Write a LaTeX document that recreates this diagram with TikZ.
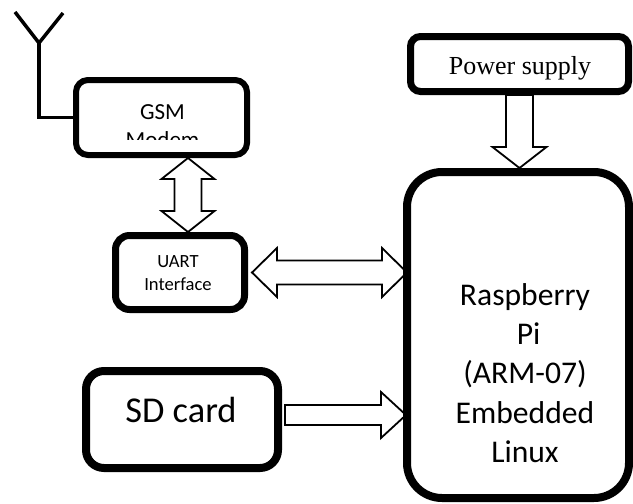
\documentclass[tikz,border=0pt]{standalone}
\usepackage{fontspec}
\setmainfont{Carlito}
\newfontfamily\psfont{Liberation Serif}
\usetikzlibrary{positioning,calc}

\tikzset{
  blk/.style={draw, inner sep=0pt, fill=white},
  % hollow block arrows: shaft half width, head half width, head length
  onearrow/.style n args={3}{line width=1.8pt, line join=miter, to path={
    -- ($(\tikztostart)!#1!90:(\tikztotarget)$)
    -- ($($(\tikztotarget)!#3!(\tikztostart)$)!#1!90:(\tikztotarget)$)
    -- ($($(\tikztotarget)!#3!(\tikztostart)$)!#2!90:(\tikztotarget)$)
    -- (\tikztotarget)
    -- ($($(\tikztotarget)!#3!(\tikztostart)$)!#2!-90:(\tikztotarget)$)
    -- ($($(\tikztotarget)!#3!(\tikztostart)$)!#1!-90:(\tikztotarget)$)
    -- ($(\tikztostart)!#1!-90:(\tikztotarget)$)
    -- cycle}},
  twoarrow/.style n args={3}{line width=1.8pt, line join=miter, to path={
    -- ($($(\tikztostart)!#3!(\tikztotarget)$)!#2!90:(\tikztotarget)$)
    -- ($($(\tikztostart)!#3!(\tikztotarget)$)!#1!90:(\tikztotarget)$)
    -- ($($(\tikztotarget)!#3!(\tikztostart)$)!#1!90:(\tikztotarget)$)
    -- ($($(\tikztotarget)!#3!(\tikztostart)$)!#2!90:(\tikztotarget)$)
    -- (\tikztotarget)
    -- ($($(\tikztotarget)!#3!(\tikztostart)$)!#2!-90:(\tikztotarget)$)
    -- ($($(\tikztotarget)!#3!(\tikztostart)$)!#1!-90:(\tikztotarget)$)
    -- ($($(\tikztostart)!#3!(\tikztotarget)$)!#1!-90:(\tikztotarget)$)
    -- ($($(\tikztostart)!#3!(\tikztotarget)$)!#2!-90:(\tikztotarget)$)
    -- cycle}},
}

\begin{document}
\begin{tikzpicture}[x=1pt, y=-1pt]

  \useasboundingbox (0,0) rectangle (633,504);

  % boxes
  \node[blk, line width=6pt, outer sep=3pt, rounded corners=12pt,
        minimum width=171pt, minimum height=75pt] (gsm) at (161.5,117.5) {};
  \node[blk, line width=7pt, outer sep=3.5pt, rounded corners=10pt,
        minimum width=218pt, minimum height=55pt] (pwr) at (519.5,64) {};
  \node[blk, line width=7pt, outer sep=3.5pt, rounded corners=14pt,
        minimum width=129pt, minimum height=74pt] (uart) at (180,272.5) {};
  \node[blk, line width=8pt, outer sep=4pt, rounded corners=18pt,
        minimum width=192pt, minimum height=97pt] (sd) at (182,419.5) {};
  \node[blk, line width=8pt, outer sep=4pt, rounded corners=35pt,
        minimum width=222pt, minimum height=326pt] (rpi) at (518,335) {};

  % texts
  \begin{scope}
    \clip (76,80) rectangle (247,139);
    \node[align=center, font=\fontsize{23}{28}\selectfont] (gsmtext) at (162.5,126) {GSM\\Modem};
  \end{scope}
  \node[font=\psfont\fontsize{26}{30}\selectfont] (pwrtext) at (520,68) {Power supply};
  \node[align=center, font=\fontsize{18.6}{23}\selectfont] (uarttext) at (178,273.5) {UART\\Interface};
  \node[font=\fontsize{36.4}{44}\selectfont] (sdtext) at (181,410) {SD card};
  \node[align=center, font=\fontsize{31.6}{39.3}\selectfont] (rpitext) at (525,373)
    {Raspberry\\\ Pi\\(ARM-07)\\Embedded\\Linux};

  % antenna
  \coordinate (ant) at (39,43);
  \coordinate (antl) at (15,12);
  \coordinate (antr) at (63,13);
  \draw[line width=3.5pt] (antl) -- (ant) -- (antr);
  \draw[line width=3.5pt] (gsm.west) -| (ant);

  % block arrows
  \draw[onearrow={13.5pt}{27pt}{21pt}] (pwr.south) to (pwr.south |- rpi.north);
  \draw[twoarrow={13.5pt}{26.5pt}{21pt}] ([xshift=26.5pt]gsm.south) to ([xshift=8pt]uart.north);
  \draw[twoarrow={12pt}{24.5pt}{25pt}] ([xshift=4pt]uart.east) to ([xshift=4pt]uart.east -| rpi.west);
  \draw[onearrow={10pt}{23pt}{25pt}] ([xshift=3pt,yshift=4.5pt]sd.east) to ([xshift=3pt,yshift=4.5pt]sd.east -| rpi.west);

\end{tikzpicture}
\end{document}
